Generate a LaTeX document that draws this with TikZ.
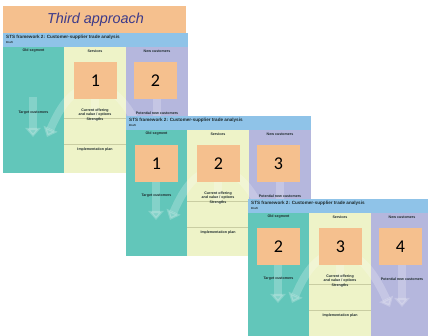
\documentclass[tikz,border=0pt]{standalone}
\usepackage{fontspec}
\setmainfont{Liberation Sans}
\newfontfamily\numfont{Carlito}
\usetikzlibrary{arrows.meta}
\definecolor{peach}{HTML}{F5C08E}
\definecolor{barblue}{HTML}{8FC3E8}
\definecolor{colteal}{HTML}{62C6BA}
\definecolor{colyellow}{HTML}{EEF3C8}
\definecolor{collav}{HTML}{B5B7DD}
\definecolor{inkdark}{HTML}{1E2B2E}
\definecolor{titleink}{HTML}{3C3A8A}
\definecolor{rulegray}{HTML}{C9CDA2}

\tikzset{
  numbox/.style={fill=peach,minimum width=43pt,minimum height=37pt,inner sep=0pt,
    font=\numfont\fontsize{18}{18}\selectfont},
  smalltext/.style={font=\bfseries\fontsize{3.6}{4.2}\selectfont,inner sep=0pt,text=inkdark,align=center},
  ghost/.style={white,opacity=0.22,line width=8pt,-{Triangle[width=15pt,length=9pt]}},
  sepline/.style={rulegray,line width=0.5pt},
}

% one slide: name, x, y, box labels of the three columns
\newcommand{\stsslide}[6]{%
  \begin{scope}[shift={(#2,#3)}]
    \fill[barblue] (0,0) rectangle (185,14);
    \fill[colteal] (0,14) rectangle (61,140);
    \fill[colyellow] (61,14) rectangle (123,140);
    \fill[collav] (123,14) rectangle (185,140);
    % faint arrows in the background
    \draw[ghost] (30,64) -- (30,104);
    \draw[ghost,{Triangle[width=15pt,length=9pt]}-{Triangle[width=15pt,length=9pt]}]
      (44,104) .. controls (58,72) and (70,54) .. (92,54) .. controls (114,54) and (128,78) .. (142,108);
    \draw[ghost,-] (92,62) -- (92,88);
    \draw[ghost] (154,64) -- (154,108);
    \draw[sepline] (61,85) -- (123,85);
    \draw[sepline] (61,111) -- (123,111);
    \node[smalltext,anchor=west] (#1-title) at (3,4.5)
      {\fontsize{4.6}{5}\selectfont STS framework 2: Customer-supplier trade analysis};
    \node[smalltext,anchor=west] (#1-sub) at (3,9.5) {\fontsize{2.8}{3}\selectfont Draft};
    \node[smalltext] (#1-hA) at (30.5,18) {Old segment};
    \node[smalltext] (#1-hB) at (92,18) {Services};
    \node[smalltext] (#1-hC) at (154,18) {New customers};
    \node[smalltext] (#1-tA) at (30.5,80) {Target customers};
    \node[smalltext] (#1-tB) at (92,82) {Current offering\\and value / options\\Strengths};
    \node[smalltext] (#1-tC) at (154,80) {Potential new customers};
    \node[smalltext] (#1-tD) at (92,117) {Implementation plan};
    \if\relax\detokenize{#4}\relax\else
      \node[numbox] (#1-a) at (30.5,47.5) {#4};\fi
    \node[numbox] (#1-b) at (92.5,47.5) {#5};
    \node[numbox] (#1-c) at (152.5,47.5) {#6};
  \end{scope}}

\begin{document}
\begin{tikzpicture}[x=1pt,y=-1pt]
  \useasboundingbox[fill=white] (0,0) rectangle (428,336);
  \clip (0,0) rectangle (428,336);
  \fill[peach] (3,6) rectangle (186,33);
  \node[font=\itshape\fontsize{14.4}{16}\selectfont,text=titleink] (title) at (95.5,19.5) {Third approach};
  \stsslide{first}{3}{33}{}{1}{2}
  \stsslide{second}{126}{116}{1}{2}{3}
  \stsslide{third}{248}{199}{2}{3}{4}
\end{tikzpicture}
\end{document}
